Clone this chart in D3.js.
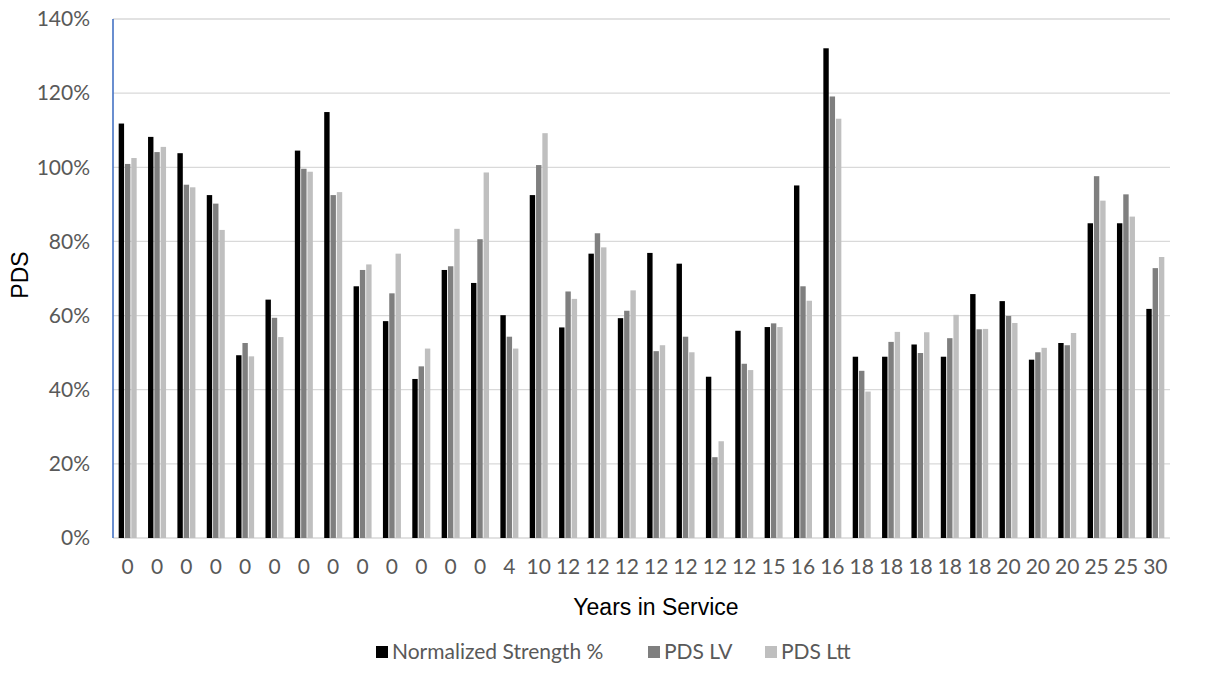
<!DOCTYPE html>
<html>
<head>
<meta charset="utf-8">
<script src="https://cdn.jsdelivr.net/npm/d3@7/dist/d3.min.js"></script>
<style>
  html, body { margin: 0; padding: 0; background: #fff; }
  svg { display: block; }
</style>
</head>
<body>
<svg id="chart" width="1206" height="691"></svg>
<script>
// Years in service for each tested specimen (x-axis categories)
const years = ["0","0","0","0","0","0","0","0","0","0","0","0","0","4","10",
  "12","12","12","12","12","12","12","15","16","16",
  "18","18","18","18","18","20","20","20","25","25","30"];

// Series values, in percent
const normalizedStrength = [111.8,108.2,103.8,92.5,49.3,64.3,104.5,114.9,67.9,58.5,42.9,72.3,68.8,60.1,92.5,
  56.8,76.7,59.3,76.9,74.0,43.5,55.9,56.9,95.1,132.1,
  48.9,48.9,52.2,48.9,65.8,63.9,48.1,52.6,84.9,84.9,61.8];
const pdsLV = [100.9,104.1,95.3,90.2,52.6,59.4,99.6,92.5,72.3,66.0,46.3,73.3,80.6,54.3,100.6,
  66.5,82.2,61.3,50.4,54.3,21.8,47.0,57.9,67.9,119.1,
  45.1,52.9,49.9,53.9,56.3,59.9,50.1,52.0,97.6,92.7,72.8];
const pdsLtt = [102.5,105.5,94.6,83.1,49.0,54.2,98.8,93.3,73.8,76.7,51.1,83.4,98.6,51.1,109.2,
  64.5,78.4,66.8,52.0,50.1,26.1,45.3,56.9,64.0,113.1,
  39.5,55.6,55.5,60.2,56.4,58.0,51.3,55.3,91.0,86.7,75.8];

const seriesNames = ["Normalized Strength %", "PDS LV", "PDS Ltt"];
const seriesColors = ["#000000", "#7f7f7f", "#bfbfbf"];
const seriesValues = [normalizedStrength, pdsLV, pdsLtt];
const yTicks = [0, 20, 40, 60, 80, 100, 120, 140];

const svg = d3.select("#chart");
const plot = { left: 113, right: 1170, top: 19, bottom: 538 };
const labelFont = "Lato, 'Open Sans', sans-serif";
const titleFont = "'Liberation Sans', Arial, sans-serif";
const labelSize = 21;

const x = d3.scaleBand()
  .domain(d3.range(years.length))
  .range([plot.left, plot.right])
  .paddingInner(0)
  .paddingOuter(0);

const y = d3.scaleLinear().domain([0, 140]).range([plot.bottom, plot.top]);

// Horizontal gridlines
svg.append("g")
  .selectAll("line")
  .data(yTicks)
  .join("line")
  .attr("x1", plot.left)
  .attr("x2", plot.right)
  .attr("y1", d => y(d))
  .attr("y2", d => y(d))
  .attr("stroke", "#d9d9d9")
  .attr("stroke-width", 1.3);

// Y tick labels
svg.append("g")
  .selectAll("text")
  .data(yTicks)
  .join("text")
  .attr("x", 90)
  .attr("y", d => y(d))
  .attr("dy", "0.35em")
  .attr("text-anchor", "end")
  .attr("font-family", labelFont)
  .attr("font-size", labelSize)
  .attr("fill", "#595959")
  .text(d => d + "%");

// Bars: three series per category
const barW = 5.4, barGap = 0.9;
const groupW = 3 * barW + 2 * barGap;

const groups = svg.append("g")
  .selectAll("g")
  .data(years.map((yr, i) => ({ i, vals: seriesValues.map(s => s[i]) })))
  .join("g")
  .attr("transform", d => `translate(${x(d.i) + (x.bandwidth() - groupW) / 2},0)`);

groups.selectAll("rect")
  .data(d => d.vals.map((v, k) => ({ v, k })))
  .join("rect")
  .attr("x", d => d.k * (barW + barGap))
  .attr("width", barW)
  .attr("y", d => y(d.v))
  .attr("height", d => y(0) - y(d.v))
  .attr("fill", d => seriesColors[d.k]);

// Left axis line
svg.append("line")
  .attr("x1", plot.left).attr("x2", plot.left)
  .attr("y1", plot.top).attr("y2", plot.bottom)
  .attr("stroke", "#4472c4")
  .attr("stroke-width", 1.6);

// X category labels
svg.append("g")
  .selectAll("text")
  .data(years)
  .join("text")
  .attr("x", (d, i) => x(i) + x.bandwidth() / 2)
  .attr("y", 567)
  .attr("dy", "0.35em")
  .attr("text-anchor", "middle")
  .attr("font-family", labelFont)
  .attr("font-size", labelSize)
  .attr("fill", "#595959")
  .text(d => d);

// Axis titles
svg.append("text")
  .attr("x", 656)
  .attr("y", 607)
  .attr("dy", "0.35em")
  .attr("text-anchor", "middle")
  .attr("font-family", titleFont)
  .attr("font-size", 23)
  .attr("fill", "#000")
  .text("Years in Service");

svg.append("text")
  .attr("transform", "translate(20,275) rotate(-90)")
  .attr("dy", "0.35em")
  .attr("text-anchor", "middle")
  .attr("font-family", titleFont)
  .attr("font-size", 23)
  .attr("fill", "#000")
  .text("PDS");

// Legend: swatch + label per series
const legendStarts = [376, 648, 765];
const legend = svg.append("g").attr("transform", "translate(0,652)");
const items = legend.selectAll("g")
  .data(seriesNames)
  .join("g")
  .attr("transform", (d, i) => `translate(${legendStarts[i]},0)`);
items.append("rect")
  .attr("y", -6)
  .attr("width", 12)
  .attr("height", 12)
  .attr("fill", (d, i) => seriesColors[i]);
items.append("text")
  .attr("x", 16)
  .attr("dy", "0.35em")
  .attr("font-family", labelFont)
  .attr("font-size", labelSize)
  .attr("fill", "#595959")
  .text(d => d);
</script>
</body>
</html>
